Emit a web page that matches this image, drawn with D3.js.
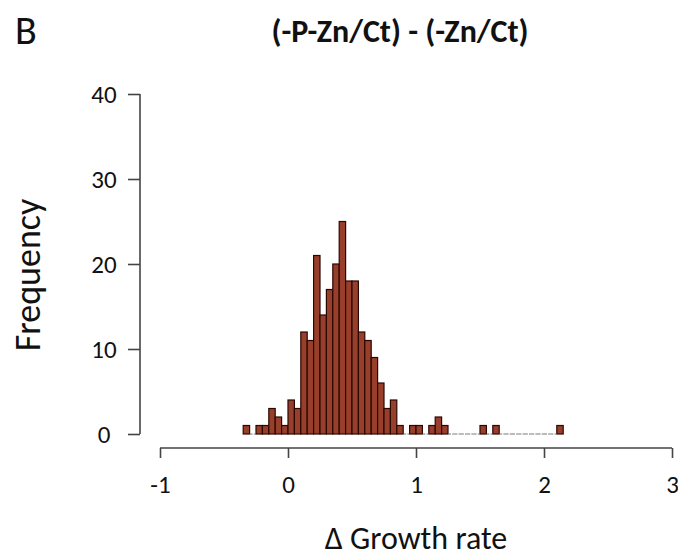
<!DOCTYPE html>
<html>
<head>
<meta charset="utf-8">
<script src="https://cdn.jsdelivr.net/npm/d3@7/dist/d3.min.js"></script>
<style>
  html, body { margin: 0; padding: 0; background: #ffffff; }
  svg { display: block; }
  text { font-family: Carlito, "Open Sans", "Noto Sans", sans-serif; fill: #111; }
</style>
</head>
<body>
<svg id="chart" width="678" height="559"></svg>
<script>
// Histogram of growth-rate differences, bins of 0.05 starting at -0.35
const binStart = -0.35;
const binWidth = 0.05;
const counts = [
  1, 0, 1, 1, 3, 2, 1,            // -0.35 .. 0.00
  4, 3, 12, 11, 21, 14, 17, 20,   // 0.00 .. 0.40
  25, 18, 18, 12, 11, 9, 6, 3,    // 0.40 .. 0.80
  4, 1, 0, 1, 1, 0, 1, 2, 1,      // 0.80 .. 1.25
  0, 0, 0, 0, 0, 1, 0, 1,         // 1.25 .. 1.65
  0, 0, 0, 0, 0, 0, 0, 0, 0, 1    // 1.65 .. 2.15
];
const xTicks = [-1, 0, 1, 2, 3];
const yTicks = [0, 10, 20, 30, 40];

const panelLetter = "B";
const title = "(-P-Zn/Ct) - (-Zn/Ct)";
const xLabel = "\u0394 Growth rate";
const yLabel = "Frequency";

const bins = counts.map((c, i) => ({
  x0: binStart + i * binWidth,
  x1: binStart + (i + 1) * binWidth,
  n: c
}));

const svg = d3.select("#chart");
const fontStack = 'Carlito, "Open Sans", sans-serif';
// plain hyphen for negative tick values
const fmt = d => String(d);

const x = d3.scaleLinear().domain([-1, 3]).range([160, 672]);
const y = d3.scaleLinear().domain([0, 40]).range([434, 94]);

// bars
const g = svg.append("g");
g.selectAll("rect.bar")
  .data(bins.filter(d => d.n > 0))
  .join("rect")
  .attr("class", "bar")
  .attr("x", d => x(d.x0))
  .attr("y", d => y(d.n))
  .attr("width", d => x(d.x1) - x(d.x0))
  .attr("height", d => y(0) - y(d.n))
  .attr("fill", "#983f2b")
  .attr("stroke", "#2a0802")
  .attr("stroke-width", 1.2);

// empty bins drawn as a thin baseline
g.selectAll("line.empty")
  .data(bins.filter(d => d.n === 0))
  .join("line")
  .attr("class", "empty")
  .attr("x1", d => x(d.x0))
  .attr("x2", d => x(d.x1))
  .attr("y1", y(0))
  .attr("y2", y(0))
  .attr("stroke", "#777")
  .attr("stroke-width", 1)
  .attr("stroke-dasharray", "3,1.2");

// x axis, detached below the plot
const xAxis = d3.axisBottom(x).tickValues(xTicks).tickSize(10).tickPadding(17)
  .tickFormat(fmt);
const gx = svg.append("g").attr("transform", "translate(0,448)").call(xAxis);
gx.select(".domain").attr("stroke", "#444").attr("stroke-width", 1.6)
  .attr("d", `M${x(-1)},0H${x(3)}`);
gx.selectAll(".tick line").attr("stroke", "#444").attr("stroke-width", 1.6);
gx.selectAll(".tick text")
  .style("font-family", fontStack)
  .style("font-size", "25px").attr("fill", "#111");

// y axis
const yAxis = d3.axisLeft(y).tickValues(yTicks).tickSize(12).tickPadding(0)
  .tickFormat(fmt);
const gy = svg.append("g").attr("transform", "translate(140,0)").call(yAxis);
gy.select(".domain").attr("stroke", "#444").attr("stroke-width", 1.6)
  .attr("d", `M0,${y(0)}V${y(40)}`);
gy.selectAll(".tick line").attr("stroke", "#444").attr("stroke-width", 1.6);
gy.selectAll(".tick text")
  .attr("x", -36)
  .attr("text-anchor", "middle")
  .style("font-family", fontStack)
  .style("font-size", "25px").attr("fill", "#111");

// labels
svg.append("text")
  .attr("x", 15).attr("y", 44)
  .style("font-size", "40px")
  .text(panelLetter);

svg.append("text")
  .attr("x", 400).attr("y", 42)
  .attr("text-anchor", "middle")
  .style("font-size", "32px").style("font-weight", "bold")
  .text(title);

svg.append("text")
  .attr("x", 416).attr("y", 549)
  .attr("text-anchor", "middle")
  .style("font-size", "32px")
  .text(xLabel);

svg.append("text")
  .attr("transform", "translate(40,275) rotate(-90)")
  .attr("text-anchor", "middle")
  .style("font-size", "36px")
  .text(yLabel);
</script>
</body>
</html>
